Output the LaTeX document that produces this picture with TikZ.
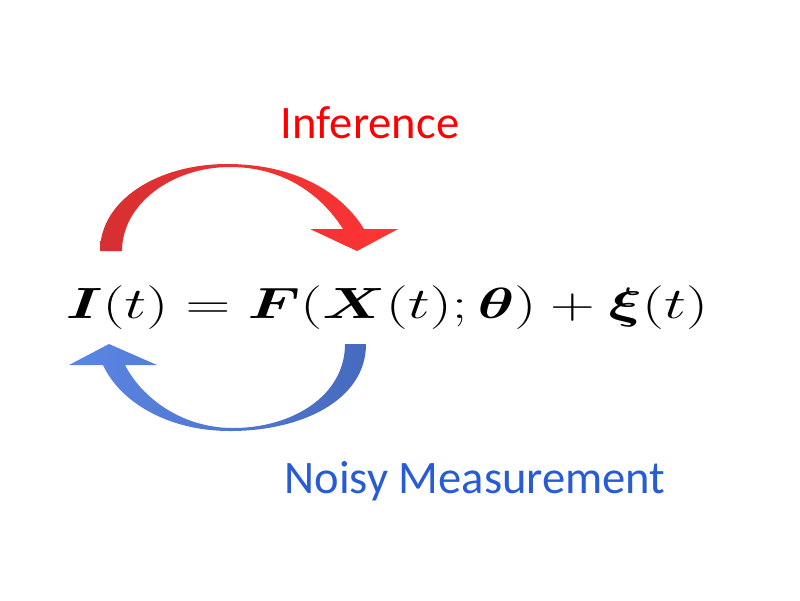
\documentclass[tikz,border=0pt]{standalone}
\usepackage{amsmath}
\usepackage{bm}
\usepackage{graphicx}
\usepackage[no-math]{fontspec}
\newfontfamily\labelfont{Carlito}
\usetikzlibrary{
    positioning
}
\definecolor{inferred}{RGB}{255,0,0}
\definecolor{noisyblue}{RGB}{40,92,212}
\definecolor{redleft}{RGB}{214,48,50}
\definecolor{redright}{RGB}{255,52,52}
\definecolor{blueleft}{RGB}{92,134,228}
\definecolor{blueright}{RGB}{70,106,190}

\begin{document}
\begin{tikzpicture}[x=0.02cm, y=-0.02cm]
    \useasboundingbox (0,0) rectangle (800,600);
    % upper arrow
    \shade[left color=redleft, right color=redright]
        (100,251) .. controls (100,200) and (158,164) .. (227,164)
        .. controls (292,164) and (340,190) .. (364,229)
        -- (398,229) -- (357,251) -- (310,229) -- (343,229)
        .. controls (322,196) and (285,167) .. (230,167)
        .. controls (172,167) and (122,204) .. (122,251) -- cycle;
    % lower arrow
    \shade[left color=blueleft, right color=blueright]
        (366,344) .. controls (366,400) and (302,431) .. (230,431)
        .. controls (168,431) and (120,402) .. (103,365)
        -- (69,365) -- (109,344) -- (157,365) -- (125,365)
        .. controls (142,398) and (182,428) .. (233,428)
        .. controls (292,428) and (345,396) .. (345,344) -- cycle;
    \node[anchor=base, inner sep=0pt, text=inferred] (infer) at (370,138)
        {\labelfont\fontsize{26.5}{30}\selectfont Inference};
    \node[anchor=base, inner sep=0pt] (eqn) at (387,318)
        {\fontsize{36}{42}\selectfont\scalebox{1.42}[1]{%
         $\bm{I}(t) = \bm{F}(\bm{X}(t);\bm{\theta}) + \bm{\xi}(t)$}};
    \node[anchor=base, inner sep=0pt, text=noisyblue] (noisy) at (475,493)
        {\labelfont\fontsize{26.5}{30}\selectfont Noisy Measurement};
\end{tikzpicture}
\end{document}
